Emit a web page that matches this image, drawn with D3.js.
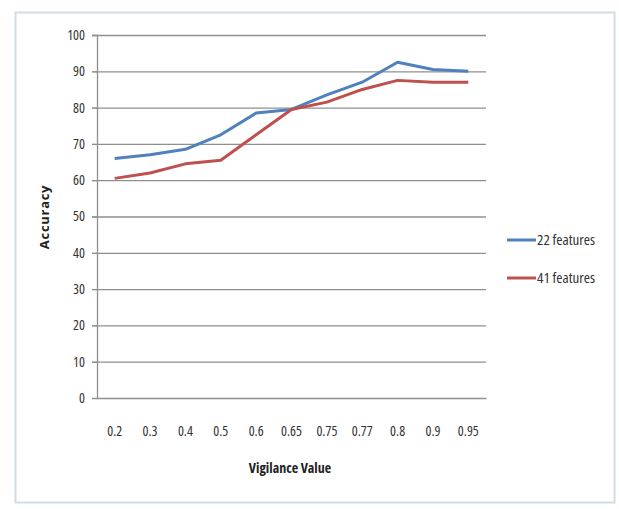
<!DOCTYPE html>
<html><head><meta charset="utf-8">
<script src="https://cdn.jsdelivr.net/npm/d3@7"></script>
<style>body{margin:0;background:#fff}svg{display:block}
text{font-family:'Open Sans',sans-serif;font-stretch:75%;}
</style>
</head><body><div id="c"></div>
<script>
const categories = ["0.2","0.3","0.4","0.5","0.6","0.65","0.75","0.77","0.8","0.9","0.95"];
const series22 = [66, 67, 68.5, 72.5, 78.5, 79.5, 83.5, 87, 92.5, 90.5, 90];
const series41 = [60.5, 62, 64.5, 65.5, 72.5, 79.5, 81.5, 85, 87.5, 87, 87];
const seriesNames = ["22 features", "41 features"];
const yTicks = [0,10,20,30,40,50,60,70,80,90,100];

(function(){
const W = 619, H = 509;
const svg = d3.select("#c").append("svg").attr("width", W).attr("height", H);

// frame
svg.append("rect").attr("x",15.5).attr("y",12.5).attr("width",599).attr("height",490)
  .attr("fill","#fff").attr("stroke","#d0dee4").attr("stroke-width",2);

const pL = 97, pR = 486, pT = 35, pB = 398;
const x = d3.scaleBand().domain(categories).range([pL, pR]);
const y = d3.scaleLinear().domain([0,100]).range([pB, pT]);

// gridlines
svg.append("g").selectAll("line").data(yTicks.filter(d=>d>0)).join("line")
  .attr("x1", pL-5).attr("x2", pR).attr("y1", d=>y(d)+0.5).attr("y2", d=>y(d)+0.5)
  .attr("stroke","#8f8f8f").attr("stroke-width",1.3);

// y axis
const ya = svg.append("g").attr("transform",`translate(${pL},0)`)
  .call(d3.axisLeft(y).tickValues(yTicks).tickSize(5).tickPadding(7));
ya.select(".domain").attr("stroke","#8f8f8f").attr("stroke-width",1.3);
ya.selectAll(".tick line").attr("stroke","#8f8f8f");
ya.selectAll("text").attr("font-family",null).attr("font-size",14).attr("font-weight",400).attr("fill","#333");

// x axis
const xa = svg.append("g").attr("transform",`translate(0,${pB})`)
  .call(d3.axisBottom(x).tickSize(0).tickPadding(28));
xa.select(".domain").attr("stroke","#8f8f8f").attr("stroke-width",1.3);
xa.selectAll("text").attr("font-family",null).attr("font-size",14).attr("font-weight",400).attr("fill","#333");

const line = d3.line().x((d,i)=>x(categories[i])+x.bandwidth()/2).y(d=>y(d));
const colors = ["#4F81BD","#C0504D"];
[series22, series41].forEach((s,k)=>{
  svg.append("path").datum(s).attr("d", line).attr("fill","none")
    .attr("stroke", colors[k]).attr("stroke-width",3).attr("stroke-linejoin","round");
});

// legend
seriesNames.forEach((n,k)=>{
  const ly = 240 + k*38;
  svg.append("line").attr("x1",507).attr("x2",536).attr("y1",ly).attr("y2",ly)
    .attr("stroke",colors[k]).attr("stroke-width",3);
  svg.append("text").attr("x",537).attr("y",ly+5).text(n)
    .attr("font-size",15).attr("font-weight",400).attr("fill","#333");
});

// titles
svg.append("text").attr("x",290).attr("y",473).attr("text-anchor","middle")
  .attr("font-size",14).attr("font-weight","bold").attr("fill","#222")
  .text("Vigilance Value");
svg.append("text").attr("transform","translate(49,217) rotate(-90)").attr("text-anchor","middle")
  .attr("font-size",13).attr("font-weight","bold").attr("letter-spacing",0.7).attr("fill","#222")
  .style("font-stretch","100%")
  .text("Accuracy");
})();
</script></body></html>
